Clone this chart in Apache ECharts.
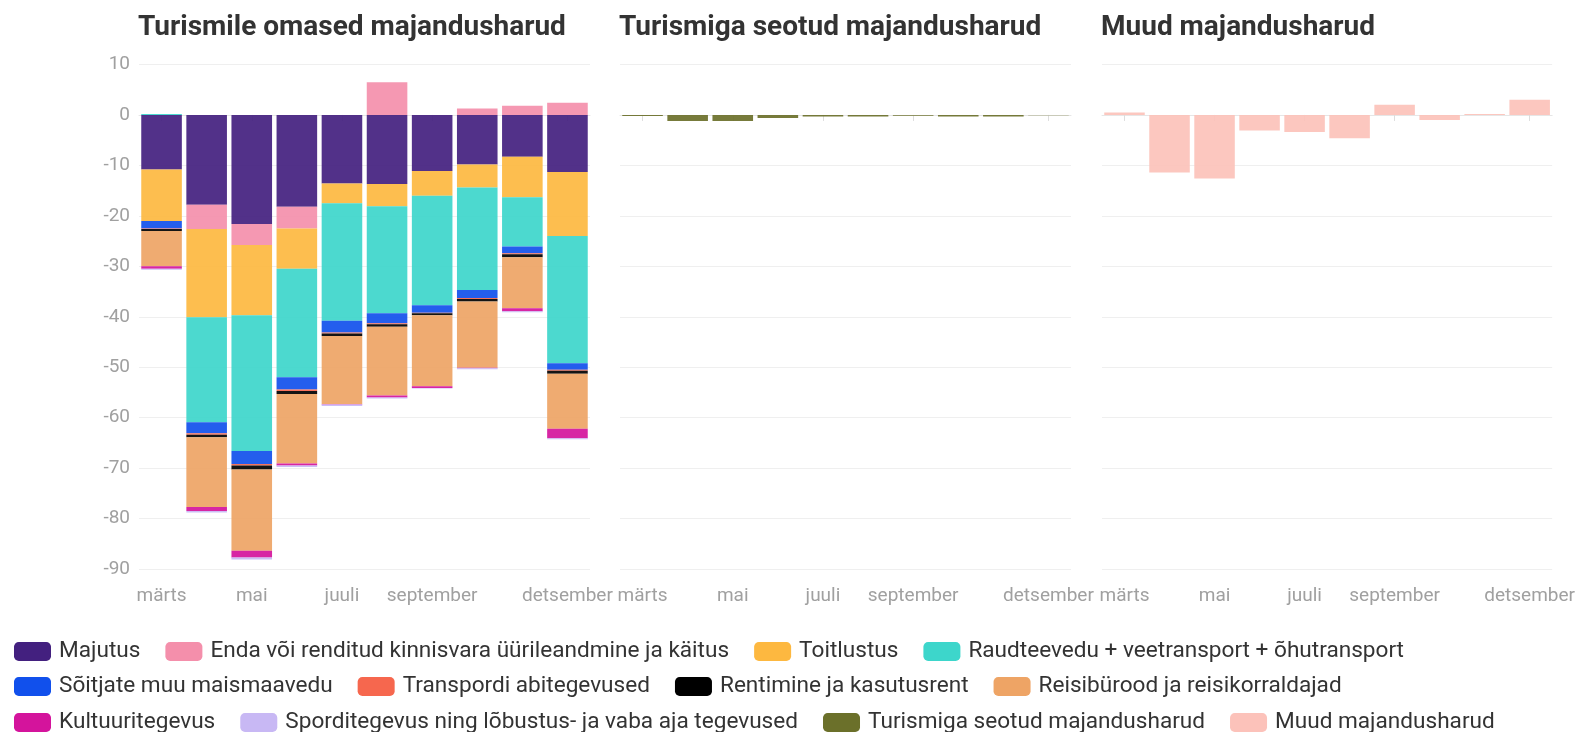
<!DOCTYPE html>
<html><head><meta charset="utf-8">
<script src="https://cdn.jsdelivr.net/npm/echarts@6/dist/echarts.min.js"></script>
<style>html,body{margin:0;padding:0;background:#fff}#c{width:1578px;height:732px}</style>
</head><body><div id="c"></div><script>
const months = ['märts','aprill','mai','juuni','juuli','august','september','oktoober','november','detsember'];
const labelIdx = [0,2,4,6,9];
const panelTitles = ['Turismile omased majandusharud','Turismiga seotud majandusharud','Muud majandusharud'];

const majutus    = [-10.8,-17.8,-21.6,-18.2,-13.6,-13.7,-11.1,-9.8,-8.3,-11.3];
const enda       = [0,-4.8,-4.2,-4.3,0,6.5,0,1.3,1.8,2.4];
const toitlustus = [-10.2,-17.5,-13.9,-8.0,-3.9,-4.4,-4.9,-4.6,-8.0,-12.7];
const raudtee    = [0.2,-20.8,-26.9,-21.5,-23.3,-21.2,-21.7,-20.3,-9.8,-25.2];
const soitjate   = [-1.5,-2.2,-2.6,-2.4,-2.3,-2.0,-1.5,-1.6,-1.3,-1.3];
const transpordi = [-0.1,-0.3,-0.3,-0.3,-0.2,-0.2,-0.1,-0.2,-0.2,-0.2];
const rentimine  = [-0.4,-0.5,-0.8,-0.6,-0.5,-0.5,-0.4,-0.5,-0.6,-0.6];
const reisi      = [-7.0,-13.8,-16.1,-13.8,-13.5,-13.6,-14.1,-13.1,-10.1,-10.9];
const kultuur    = [-0.5,-0.8,-1.3,-0.4,-0.1,-0.4,-0.3,-0.1,-0.6,-1.9];
const sport      = [-0.2,-0.3,-0.4,-0.3,-0.3,-0.2,-0.1,-0.2,-0.2,-0.2];
const turismiga  = [-0.2,-1.2,-1.2,-0.6,-0.3,-0.3,-0.15,-0.3,-0.3,-0.05];
const muud       = [0.5,-11.4,-12.6,-3.1,-3.4,-4.6,2.0,-1.0,0.2,3.0];

const mainSeries = [
  ['Majutus', majutus, '#43207f'],
  ['Enda või renditud kinnisvara üürileandmine ja käitus', enda, '#f48fab'],
  ['Toitlustus', toitlustus, '#fdb840'],
  ['Raudteevedu + veetransport + õhutransport', raudtee, '#3dd6cb'],
  ['Sõitjate muu maismaavedu', soitjate, '#1150ec'],
  ['Transpordi abitegevused', transpordi, '#f6674e'],
  ['Rentimine ja kasutusrent', rentimine, '#000000'],
  ['Reisibürood ja reisikorraldajad', reisi, '#eea465'],
  ['Kultuuritegevus', kultuur, '#d4149c'],
  ['Sporditegevus ning lõbustus- ja vaba aja tegevused', sport, '#c8b8f4']
];

const gridLefts = [139, 620, 1102];
const showLabel = (i) => labelIdx.indexOf(i) >= 0;

const series = mainSeries.map(([name, data, color]) => ({
  name, type:'bar', stack:'main', xAxisIndex:0, yAxisIndex:0, data,
  barCategoryGap:'10%', itemStyle:{color, opacity:0.92}
}));
series.push({name:'Turismiga seotud majandusharud', type:'bar', xAxisIndex:1, yAxisIndex:1, data:turismiga,
  barCategoryGap:'10%', itemStyle:{color:'#6b702a', opacity:0.92}});
series.push({name:'Muud majandusharud', type:'bar', xAxisIndex:2, yAxisIndex:2, data:muud,
  barCategoryGap:'10%', itemStyle:{color:'#fcc2ba', opacity:0.92}});

const legendNames = series.map(s => s.name);
const legendBase = {
  left:14, padding:0, icon:'roundRect', itemWidth:37, itemHeight:19, itemGap:25,
  itemStyle:{opacity:1},
  textStyle:{fontSize:22.6, color:'#333', fontFamily:'Roboto', padding:[0,0,0,3]}
};

const option = {
  animation:false,
  textStyle:{fontFamily:'Roboto'},
  title: panelTitles.map((t,i) => ({
    text:t, left:gridLefts[i]-1, top:14, padding:0,
    textStyle:{fontSize:28, fontWeight:'bold', color:'#333', fontFamily:'Roboto'}
  })),
  legend:[
    Object.assign({top:640, data:legendNames.slice(0,4)}, legendBase),
    Object.assign({top:675, data:legendNames.slice(4,8)}, legendBase),
    Object.assign({top:711, data:legendNames.slice(8,12)}, legendBase)
  ],
  grid: gridLefts.map(l => ({left:l, width:451, top:64.5, height:504.5, containLabel:false})),
  xAxis: gridLefts.map((l,i) => ({
    type:'category', gridIndex:i, data:months,
    axisLine:{show:true, lineStyle:{color:'#e6e6e6'}},
    axisTick:{show:true, alignWithLabel:true, interval:(idx)=>showLabel(idx), length:6, lineStyle:{color:'#dddddd'}},
    axisLabel:{interval:(idx)=>showLabel(idx), color:'#a0a0a0', fontSize:19, margin:18, fontFamily:'Roboto'}
  })),
  yAxis: gridLefts.map((l,i) => ({
    type:'value', gridIndex:i, min:-90, max:10, interval:10,
    axisLine:{show:false}, axisTick:{show:false},
    axisLabel:{show:i===0, color:'#a0a0a0', fontSize:19, margin:9, fontFamily:'Roboto'},
    splitLine:{lineStyle:{color:'#efefef'}}
  })),
  series
};
const chart = echarts.init(document.getElementById('c'), null, {renderer:'canvas'});
chart.setOption(option);
</script></body></html>
